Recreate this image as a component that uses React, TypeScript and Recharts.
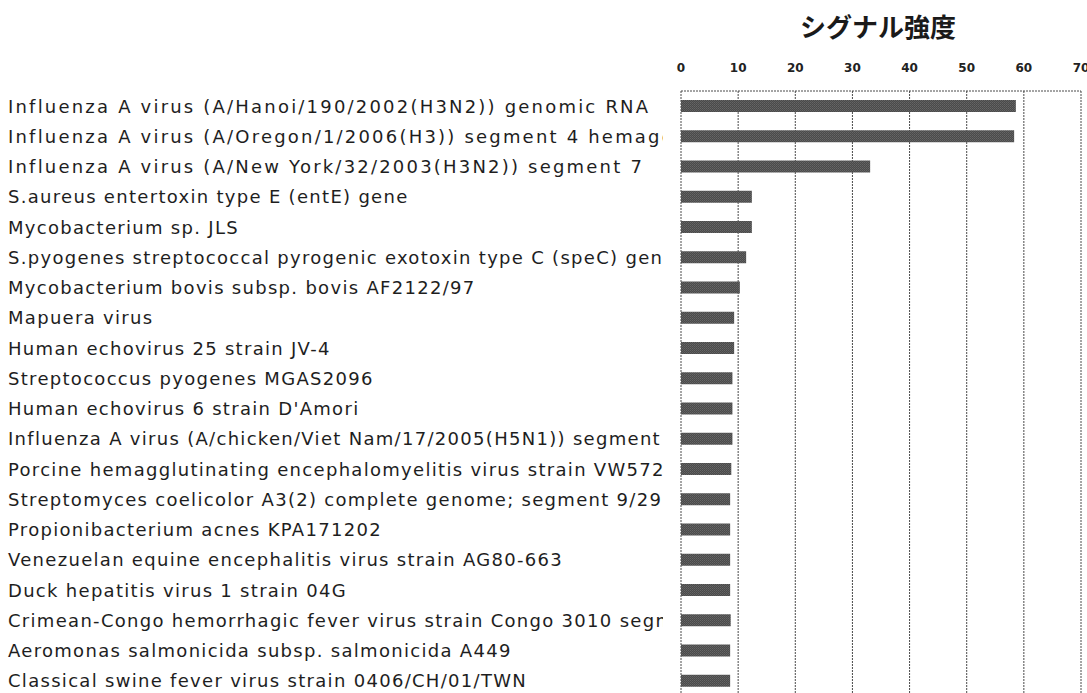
import React from "react";
import { BarChart, Bar, XAxis, YAxis, CartesianGrid } from "recharts";

const categories: string[] = [
  "Influenza A virus (A/Hanoi/190/2002(H3N2)) genomic RNA",
  "Influenza A virus (A/Oregon/1/2006(H3)) segment 4 hemagglutinin",
  "Influenza A virus (A/New York/32/2003(H3N2)) segment 7",
  "S.aureus entertoxin type E (entE) gene",
  "Mycobacterium sp. JLS",
  "S.pyogenes streptococcal pyrogenic exotoxin type C (speC) gene",
  "Mycobacterium bovis subsp. bovis AF2122/97",
  "Mapuera virus",
  "Human echovirus 25 strain JV-4",
  "Streptococcus pyogenes MGAS2096",
  "Human echovirus 6 strain D'Amori",
  "Influenza A virus (A/chicken/Viet Nam/17/2005(H5N1)) segment",
  "Porcine hemagglutinating encephalomyelitis virus strain VW572",
  "Streptomyces coelicolor A3(2) complete genome; segment 9/29",
  "Propionibacterium acnes KPA171202",
  "Venezuelan equine encephalitis virus strain AG80-663",
  "Duck hepatitis virus 1 strain 04G",
  "Crimean-Congo hemorrhagic fever virus strain Congo 3010 segment",
  "Aeromonas salmonicida subsp. salmonicida A449",
  "Classical swine fever virus strain 0406/CH/01/TWN",
];

const signal: number[] = [
  58.6, 58.3, 33.1, 12.4, 12.4, 11.4, 10.3, 9.3, 9.3, 9.0,
  9.0, 9.0, 8.8, 8.6, 8.6, 8.6, 8.6, 8.7, 8.6, 8.6,
];

const xTicks: number[] = [0, 10, 20, 30, 40, 50, 60, 70];

const title = "シグナル強度";

const data = categories.map((name, i) => ({ name, value: signal[i] }));

const LabelTick = (props: any) => {
  const { y, payload, index } = props;
  return (
    <text
      x={8}
      y={y}
      dy="0.36em"
      textAnchor="start"
      clipPath="url(#labelClip)"
      fill="#1e1e1e"
      style={{
        fontFamily: "'DejaVu Sans', sans-serif",
        fontSize: 18,
        letterSpacing: index < 3 ? 2.2 : 1.3,
      }}
    >
      {payload.value}
    </text>
  );
};

export default function App() {
  return (
    <div style={{ position: "absolute", left: 0, top: 0, width: 1087, height: 693, overflow: "hidden", background: "#fff" }}>
      <div
        style={{
          position: "absolute",
          left: 800,
          top: 8,
          fontFamily: "'Noto Sans CJK JP', sans-serif",
          fontWeight: 700,
          fontSize: 26,
          lineHeight: "36px",
          color: "#1a1a1a",
        }}
      >
        {title}
      </div>
      <BarChart
        width={1087}
        height={700}
        data={data}
        layout="vertical"
        margin={{ top: 60, right: 6, bottom: 4, left: 0 }}
        barCategoryGap={0}
      >
        <defs>
          <clipPath id="labelClip" clipPathUnits="userSpaceOnUse">
            <rect x={0} y={0} width={663} height={700} />
          </clipPath>
          <pattern id="stipple" width={2} height={2} patternUnits="userSpaceOnUse">
            <rect width={2} height={2} fill="#4a4a4a" />
            <rect x={0} y={0} width={1} height={1} fill="#666" />
            <rect x={1} y={1} width={1} height={1} fill="#5c5c5c" />
          </pattern>
        </defs>
        <CartesianGrid
          horizontal={false}
          vertical={true}
          stroke="#4a4a4a"
          strokeDasharray="2 1"
        />
        <XAxis
          type="number"
          orientation="top"
          domain={[0, 70]}
          ticks={xTicks}
          interval={0}
          height={31}
          tickLine={false}
          tickSize={0}
          tickMargin={19}
          axisLine={{ stroke: "#4a4a4a", strokeDasharray: "2 1" }}
          tick={{ fontSize: 12, fontWeight: 700, fill: "#222", fontFamily: "'DejaVu Sans', sans-serif" }}
        />
        <YAxis
          type="category"
          dataKey="name"
          width={681}
          axisLine={false}
          tickLine={false}
          interval={0}
          tick={<LabelTick />}
        />
        <Bar dataKey="value" fill="url(#stipple)" barSize={12} isAnimationActive={false} />
      </BarChart>
    </div>
  );
}
